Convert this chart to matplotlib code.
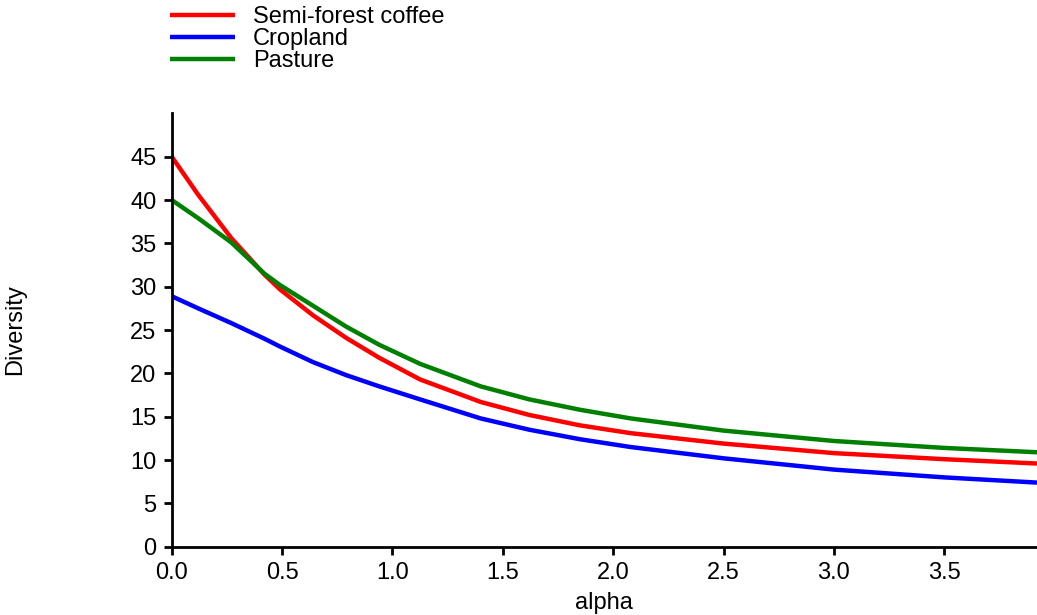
import matplotlib
matplotlib.use("Agg")
import matplotlib.pyplot as plt

plt.rcParams['font.family'] = ['Liberation Sans', 'DejaVu Sans']

# values
alpha = [0.0, 0.12, 0.27, 0.42, 0.49, 0.64, 0.79, 0.94, 1.125, 1.4, 1.62,
         1.85, 2.08, 2.5, 3.0, 3.5, 3.92]
semi_forest = [45.0, 40.6, 35.6, 31.4, 29.7, 26.7, 24.1, 21.8, 19.3, 16.7, 15.2,
               14.0, 13.1, 11.9, 10.8, 10.1, 9.6]
cropland = [28.9, 27.5, 25.8, 24.0, 23.1, 21.3, 19.8, 18.5, 17.0, 14.8, 13.5,
            12.4, 11.5, 10.2, 8.9, 8.0, 7.4]
pasture = [40.0, 37.9, 35.1, 31.5, 30.2, 27.8, 25.4, 23.3, 21.1, 18.5, 17.0,
           15.8, 14.8, 13.4, 12.2, 11.4, 10.9]

labels = ["Semi-forest coffee", "Cropland", "Pasture"]
colors = ["#ff0000", "#0000ff", "#008000"]

fig = plt.figure(figsize=(10.37, 6.15), dpi=100)
ax = fig.add_axes([0.1656, 0.111, 0.8344, 0.7047])

for ys, lab, c in zip([semi_forest, cropland, pasture], labels, colors):
    ax.plot(alpha, ys, color=c, lw=3.2, label=lab, solid_capstyle="butt",
            solid_joinstyle="round")

ax.set_xlim(0, 3.92)
ax.set_ylim(0, 50)
ax.set_xticks([0, 0.5, 1.0, 1.5, 2.0, 2.5, 3.0, 3.5])
ax.set_xticklabels(["%.1f" % t for t in ax.get_xticks()])
ax.set_yticks(range(0, 50, 5))

for s in ["top", "right"]:
    ax.spines[s].set_visible(False)
for s in ["left", "bottom"]:
    ax.spines[s].set_linewidth(2)
ax.tick_params(width=2, length=6, labelsize=17, pad=5)

ax.set_xlabel("alpha", fontsize=17, labelpad=6)
ax.set_ylabel("Diversity", fontsize=17, labelpad=75)

fig.legend(loc="upper left", bbox_to_anchor=(0.155, 1.005), frameon=False,
           fontsize=17, handlelength=2.75, handletextpad=0.75,
           labelspacing=0.0, borderaxespad=0)

fig.savefig("out.png", dpi=100)
